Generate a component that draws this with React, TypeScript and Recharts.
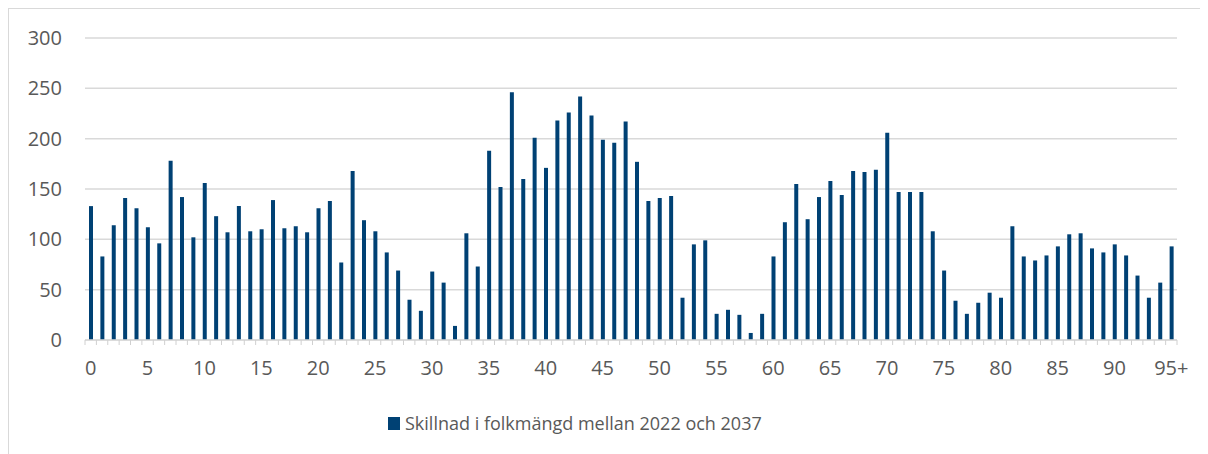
import { BarChart, Bar, XAxis, YAxis, CartesianGrid } from "recharts";

const ages = (
  "0 1 2 3 4 5 6 7 8 9 10 11 12 13 14 15 16 17 18 19 20 21 22 23 24 25 26 27 28 29 " +
  "30 31 32 33 34 35 36 37 38 39 40 41 42 43 44 45 46 47 48 49 50 51 52 53 54 55 56 57 58 59 " +
  "60 61 62 63 64 65 66 67 68 69 70 71 72 73 74 75 76 77 78 79 80 81 82 83 84 85 86 87 88 89 " +
  "90 91 92 93 94 95+"
).split(" ");

const diff = [
  133, 83, 114, 141, 131, 112, 96, 178, 142, 102,
  156, 123, 107, 133, 108, 110, 139, 111, 113, 107,
  131, 138, 77, 168, 119, 108, 87, 69, 40, 29,
  68, 57, 14, 106, 73, 188, 152, 246, 160, 201,
  171, 218, 226, 242, 223, 199, 196, 217, 177, 138,
  141, 143, 42, 95, 99, 26, 30, 25, 7, 26,
  83, 117, 155, 120, 142, 158, 144, 168, 167, 169,
  206, 147, 147, 147, 108, 69, 39, 26, 37, 47,
  42, 113, 83, 79, 84, 93, 105, 106, 91, 87,
  95, 84, 64, 42, 57, 93,
];

const yTicks = [0, 50, 100, 150, 200, 250, 300];
const labelled = ["0", "5", "10", "15", "20", "25", "30", "35", "40", "45", "50", "55", "60", "65", "70", "75", "80", "85", "90", "95+"];

const SERIES = "Skillnad i folkmängd mellan 2022 och 2037";
const BLUE = "#004174";
const GREY_TEXT = "#595959";
const FONT = "'Open Sans', sans-serif";

const W = 1200;
const H = 445;
const M = { top: 29, right: 32, bottom: 74, left: 0 };
const Y_W = 76;
const HALF_BAND = (W - M.left - M.right - Y_W) / ages.length / 2;

const data = ages.map((age, i) => ({ age, value: diff[i] }));

function AgeTick(props: any) {
  const { x, y, payload, index } = props;
  const showLabel = labelled.includes(payload.value);
  return (
    <g>
      {index === 0 && <line x1={x - HALF_BAND} x2={x - HALF_BAND} y1={y} y2={y + 5} stroke="#d0d0d0" />}
      <line x1={x + HALF_BAND} x2={x + HALF_BAND} y1={y} y2={y + 5} stroke="#d0d0d0" />
      {showLabel && (
        <text x={x} y={y + 21} dy="0.71em" textAnchor="middle" fill={GREY_TEXT} fontSize={20} fontFamily={FONT}>
          {payload.value}
        </text>
      )}
    </g>
  );
}

export default function App() {
  return (
    <div
      style={{
        position: "relative",
        width: W,
        height: H,
        borderLeft: "1px solid #d9d9d9",
        borderTop: "1px solid #d9d9d9",
        background: "#fff",
      }}
    >
      <BarChart width={W} height={H} data={data} margin={M}>
        <CartesianGrid vertical={false} stroke="#d9d9d9" strokeWidth={1.5} />
        <XAxis
          dataKey="age"
          interval={0}
          axisLine={{ stroke: "#d9d9d9", strokeWidth: 1.5 }}
          tickLine={false}
          tickSize={0}
          tickMargin={0}
          height={40}
          tick={<AgeTick />}
        />
        <YAxis
          domain={[0, 300]}
          ticks={yTicks}
          width={Y_W}
          axisLine={false}
          tickLine={false}
          tickSize={0}
          tickMargin={23}
          tick={{ fill: GREY_TEXT, fontSize: 20, fontFamily: FONT }}
        />
        <Bar dataKey="value" name={SERIES} fill={BLUE} barSize={4} isAnimationActive={false} />
      </BarChart>
      <div
        style={{
          position: "absolute",
          left: 379,
          top: 402,
          display: "flex",
          alignItems: "center",
          fontFamily: FONT,
          fontSize: 18,
          color: GREY_TEXT,
          whiteSpace: "nowrap",
        }}
      >
        <span style={{ display: "inline-block", width: 12, height: 13, background: BLUE, marginRight: 5 }} />
        {SERIES}
      </div>
    </div>
  );
}
